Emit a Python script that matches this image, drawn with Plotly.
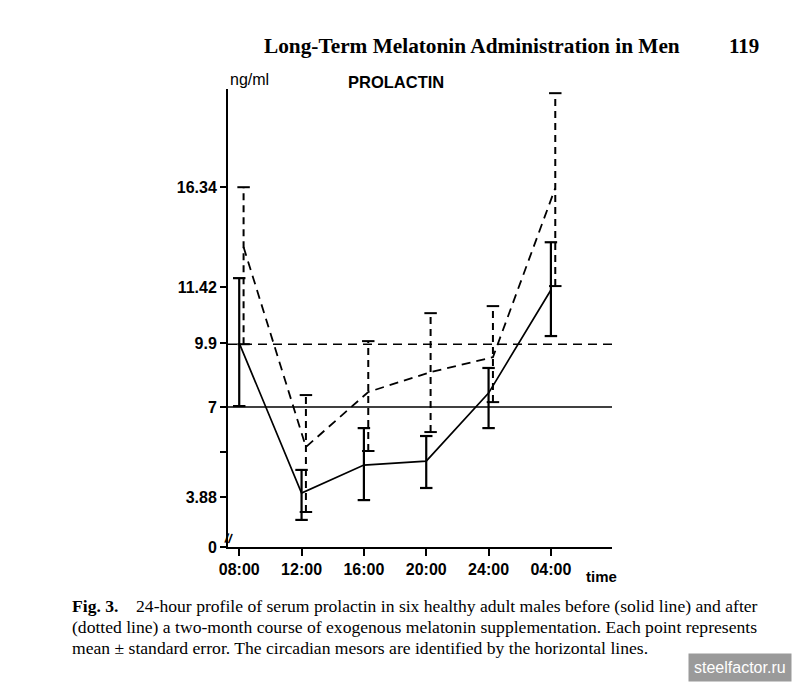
import plotly.graph_objects as go

# ---- data (values in the chart's own linear axis units; 0 -> "0", 16.34 -> "16.34") ----
times = ["08:00", "12:00", "16:00", "20:00", "24:00", "04:00"]
x_pos = [0, 1, 2, 3, 4, 5]

before_mean = [9.26, 2.45, 3.72, 3.90, 6.99, 11.67]
before_hi = [12.21, 3.50, 5.40, 5.04, 8.13, 13.84]
before_lo = [6.40, 1.23, 2.13, 2.68, 5.40, 9.58]

after_mean = [13.62, 4.54, 7.04, 7.94, 8.62, 16.30]
after_hi = [16.34, 6.90, 9.35, 10.62, 10.94, 20.61]
after_lo = [9.21, 1.59, 4.36, 5.22, 6.58, 11.85]

mesor_before = 6.36
mesor_after = 9.21

ytick_vals = [0, 2.27, 4.31, 6.36, 9.26, 11.80, 16.34]
ytick_text = ["0", "3.88", "", "7", "9.9", "11.42", "16.34"]

after_offset = 0.07
cap_half = 0.1

W, H = 792, 682
L, R, T, B = 228, 180, 89, 135
PW, PH = W - L - R, H - T - B

fig = go.Figure()


def err_segments(xs, lo, hi):
    vx, vy, cx, cy = [], [], [], []
    for x, l, h in zip(xs, lo, hi):
        vx += [x, x, None]
        vy += [l, h, None]
        cx += [x - cap_half, x + cap_half, None, x - cap_half, x + cap_half, None]
        cy += [h, h, None, l, l, None]
    return vx, vy, cx, cy


# before (solid)
xb = x_pos
vx, vy, cx, cy = err_segments(xb, before_lo, before_hi)
fig.add_trace(go.Scatter(x=vx, y=vy, mode="lines", line=dict(color="black", width=2.2), hoverinfo="skip"))
fig.add_trace(go.Scatter(x=cx, y=cy, mode="lines", line=dict(color="black", width=2.2), hoverinfo="skip"))
fig.add_trace(go.Scatter(x=xb, y=before_mean, mode="lines", line=dict(color="black", width=1.7)))

# after (dashed)
xa = [x + after_offset for x in x_pos]
vx, vy, cx, cy = err_segments(xa, after_lo, after_hi)
fig.add_trace(go.Scatter(x=vx, y=vy, mode="lines", line=dict(color="black", width=2, dash="7px,5px"), hoverinfo="skip"))
fig.add_trace(go.Scatter(x=cx, y=cy, mode="lines", line=dict(color="black", width=2), hoverinfo="skip"))
fig.add_trace(go.Scatter(x=xa, y=after_mean, mode="lines", line=dict(color="black", width=1.8, dash="9px,6px")))

# mesors
fig.add_hline(y=mesor_before, line=dict(color="black", width=1.6))
fig.add_hline(y=mesor_after, line=dict(color="black", width=1.6, dash="9px,6px"))

fig.update_layout(
    width=W, height=H,
    margin=dict(l=L, r=R, t=T, b=B),
    paper_bgcolor="white", plot_bgcolor="white",
    showlegend=False,
    font=dict(family="Liberation Sans", color="black", size=14),
)
fig.update_xaxes(
    range=[-0.18, 5.98], tickvals=x_pos, ticktext=times,
    showline=True, linecolor="black", linewidth=2,
    ticks="outside", ticklen=7, tickwidth=2, tickcolor="black",
    showgrid=False, zeroline=False,
    tickfont=dict(family="Liberation Sans", size=16, color="black", weight="bold"),
)
fig.update_yaxes(
    range=[0, 20.8], tickvals=ytick_vals, ticktext=ytick_text,
    showline=True, linecolor="black", linewidth=2,
    ticks="outside", ticklen=6, tickwidth=2, tickcolor="black",
    showgrid=False, zeroline=False,
    tickfont=dict(family="Liberation Sans", size=16, color="black", weight="bold"),
)


def px(x):
    return (x - L) / PW


def py(y):
    return (H - B - y) / PH


serif = "Liberation Serif"
ann = [
    dict(text="<b>Long-Term Melatonin Administration in Men</b>", x=262, y=46, size=21.3, fam=serif, xa="left"),
    dict(text="<b>119</b>", x=727, y=46, size=21, fam=serif, xa="left"),
    dict(text="ng/ml", x=249, y=79, size=16, fam="Liberation Sans", xa="center"),
    dict(text="<b>PROLACTIN</b>", x=396, y=82, size=16.5, fam="Liberation Sans", xa="center"),
    dict(text="<b>time</b>", x=601, y=576, size=15, fam="Liberation Sans", xa="center"),
    dict(text="<b>Fig. 3.</b>    24-hour profile of serum prolactin in six healthy adult males before (solid line) and after",
         x=70, y=606, size=17.6, fam=serif, xa="left"),
    dict(text="(dotted line) a two-month course of exogenous melatonin supplementation. Each point represents",
         x=70, y=627, size=17.6, fam=serif, xa="left"),
    dict(text="mean \u00b1 standard error. The circadian mesors are identified by the horizontal lines.",
         x=70, y=648, size=17.6, fam=serif, xa="left"),
]
for a in ann:
    fig.add_annotation(
        text=a["text"], x=px(a["x"]), y=py(a["y"]), xref="paper", yref="paper",
        xanchor=a["xa"], yanchor="middle", showarrow=False,
        font=dict(family=a["fam"], size=a["size"], color="black"),
    )

# axis break mark
fig.add_annotation(text="<b>//</b>", x=px(229), y=py(538), xref="paper", yref="paper",
                   xanchor="center", yanchor="middle", textangle=10,
                   showarrow=False, font=dict(family="Liberation Sans", size=13, color="black"))

# watermark
fig.add_annotation(text="steelfactor.ru", x=px(W), y=py(H), xref="paper", yref="paper",
                   xanchor="right", yanchor="bottom", showarrow=False,
                   bgcolor="#9a9a9a", borderpad=5,
                   font=dict(family="Liberation Sans", size=16, color="white"))

fig.write_html("out.html", post_script="document.body.style.margin='0';",
               config={"displayModeBar": False})
